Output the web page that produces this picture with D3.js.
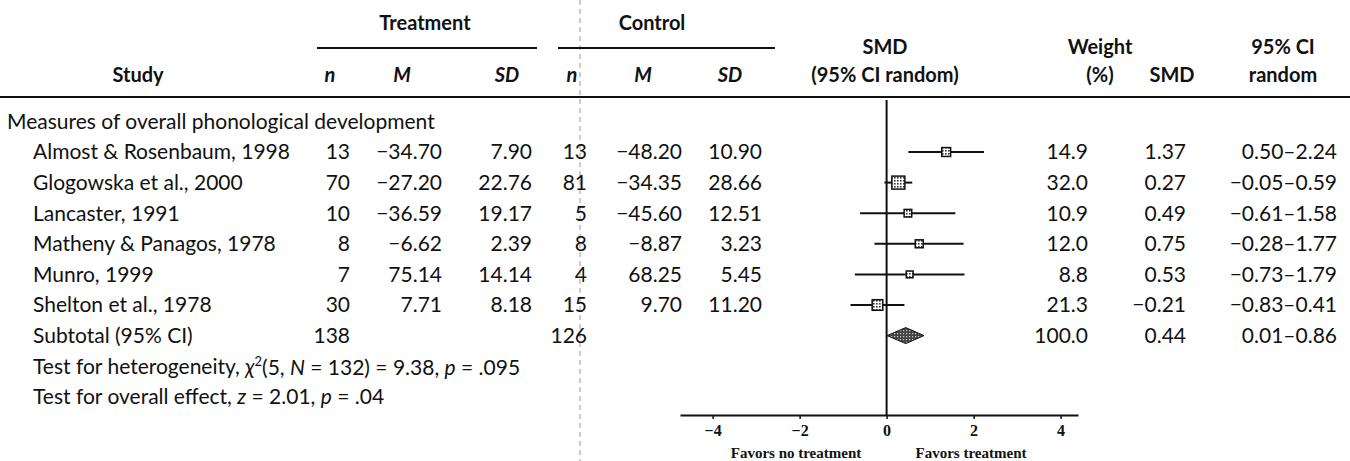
<!DOCTYPE html>
<html>
<head>
<meta charset="utf-8">
<script src="https://cdn.jsdelivr.net/npm/d3@7"></script>
<style>
  body { margin: 0; background: #fff; }
  text { fill: #111; }
</style>
</head>
<body>
<div id="chart"></div>
<script>
// Study rows
const studies = [
  "Almost & Rosenbaum, 1998",
  "Glogowska et al., 2000",
  "Lancaster, 1991",
  "Matheny & Panagos, 1978",
  "Munro, 1999",
  "Shelton et al., 1978"
];
const trtN = [13, 70, 10, 8, 7, 30];
const trtM = [-34.70, -27.20, -36.59, -6.62, 75.14, 7.71];
const trtSD = [7.90, 22.76, 19.17, 2.39, 14.14, 8.18];
const ctlN = [13, 81, 5, 8, 4, 15];
const ctlM = [-48.20, -34.35, -45.60, -8.87, 68.25, 9.70];
const ctlSD = [10.90, 28.66, 12.51, 3.23, 5.45, 11.20];
const weight = [14.9, 32.0, 10.9, 12.0, 8.8, 21.3];
const smd = [1.37, 0.27, 0.49, 0.75, 0.53, -0.21];
const ciLo = [0.50, -0.05, -0.61, -0.28, -0.73, -0.83];
const ciHi = [2.24, 0.59, 1.58, 1.77, 1.79, 0.41];

// Pooled result
const subtotal = { trtN: 138, ctlN: 126, weight: 100.0, smd: 0.44, lo: 0.01, hi: 0.86 };

const xTicks = [-4, -2, 0, 2, 4];

const W = 1350, H = 461;
const font = "Lato, 'Open Sans', sans-serif";
const serif = "'Liberation Serif', 'DejaVu Serif', serif";

const svg = d3.select("#chart").append("svg")
  .attr("width", W).attr("height", H)
  .style("font-family", font);

// patterns for the boxes and the diamond
const defs = svg.append("defs");
defs.append("pattern")
  .attr("id", "dots").attr("width", 3).attr("height", 3)
  .attr("patternUnits", "userSpaceOnUse")
  .call(p => {
    p.append("rect").attr("width", 3).attr("height", 3).attr("fill", "#fff");
    p.append("rect").attr("width", 1.6).attr("height", 1.6).attr("fill", "#333");
  });
defs.append("pattern")
  .attr("id", "darkdots").attr("width", 3).attr("height", 3)
  .attr("patternUnits", "userSpaceOnUse")
  .call(p => {
    p.append("rect").attr("width", 3).attr("height", 3).attr("fill", "#444");
    p.append("rect").attr("width", 1.2).attr("height", 1.2).attr("fill", "#ccc");
  });

// row positions
const y = d3.scaleLinear().domain([0, 1]).range([152, 182.6]);

// forest plot scale
const x = d3.scaleLinear().domain([-4.75, 4.4]).range([680, 1078]);
const axisY = 415;

const fmt2 = v => d3.format(".2f")(v).replace("-", "\u2212");
const fmtCI = (a, b) => fmt2(a) + "\u2013" + fmt2(b);

// dashed guide through the control n column
svg.append("line")
  .attr("x1", 580).attr("x2", 580).attr("y1", 0).attr("y2", H)
  .attr("stroke", "#999").attr("stroke-width", 1)
  .attr("stroke-dasharray", "5,4");

// header
const head = svg.append("g").attr("font-size", 20).attr("font-weight", 700);
head.append("text").attr("x", 425).attr("y", 30).attr("text-anchor", "middle").text("Treatment");
head.append("text").attr("x", 652).attr("y", 30).attr("text-anchor", "middle").text("Control");
head.append("text").attr("x", 138).attr("y", 82).attr("text-anchor", "middle").text("Study");

const subHeads = [
  { t: "n", x: 330 }, { t: "M", x: 402 }, { t: "SD", x: 507 },
  { t: "n", x: 572 }, { t: "M", x: 643 }, { t: "SD", x: 730 }
];
head.selectAll(".sub").data(subHeads).enter().append("text")
  .attr("x", d => d.x).attr("y", 82)
  .attr("text-anchor", "middle").attr("font-style", "italic")
  .text(d => d.t);

head.append("text").attr("x", 885).attr("y", 54).attr("text-anchor", "middle").text("SMD");
head.append("text").attr("x", 885).attr("y", 82).attr("text-anchor", "middle").text("(95% CI random)");
head.append("text").attr("x", 1100).attr("y", 54).attr("text-anchor", "middle").text("Weight");
head.append("text").attr("x", 1100).attr("y", 82).attr("text-anchor", "middle").text("(%)");
head.append("text").attr("x", 1172).attr("y", 82).attr("text-anchor", "middle").text("SMD");
head.append("text").attr("x", 1283).attr("y", 54).attr("text-anchor", "middle").text("95% CI");
head.append("text").attr("x", 1283).attr("y", 82).attr("text-anchor", "middle").text("random");

// header rules
svg.append("line").attr("x1", 317).attr("x2", 537).attr("y1", 48).attr("y2", 48)
  .attr("stroke", "#111").attr("stroke-width", 2);
svg.append("line").attr("x1", 558).attr("x2", 775).attr("y1", 48).attr("y2", 48)
  .attr("stroke", "#111").attr("stroke-width", 2);
svg.append("line").attr("x1", 0).attr("x2", W).attr("y1", 97).attr("y2", 97)
  .attr("stroke", "#111").attr("stroke-width", 2);

// body text
const body = svg.append("g").attr("font-size", 21);
body.append("text").attr("x", 7).attr("y", y(-1)).attr("dy", "0.35em")
  .text("Measures of overall phonological development");

const cols = [
  { v: trtN, x: 350, f: d => d },
  { v: trtM, x: 442, f: fmt2 },
  { v: trtSD, x: 532, f: fmt2 },
  { v: ctlN, x: 587, f: d => d },
  { v: ctlM, x: 682, f: fmt2 },
  { v: ctlSD, x: 762, f: fmt2 },
  { v: weight, x: 1088, f: d => d.toFixed(1) },
  { v: smd, x: 1186, f: fmt2 }
];

const rows = body.selectAll(".row").data(studies).enter().append("g")
  .attr("transform", (d, i) => `translate(0,${y(i)})`);
rows.append("text").attr("x", 33).attr("dy", "0.35em").text(d => d);
cols.forEach(c => {
  rows.append("text").attr("x", c.x).attr("dy", "0.35em").attr("text-anchor", "end")
    .text((d, i) => c.f(c.v[i]));
});
rows.append("text").attr("x", 1337).attr("dy", "0.35em").attr("text-anchor", "end")
  .text((d, i) => fmtCI(ciLo[i], ciHi[i]));

// subtotal row
const sub = body.append("g").attr("transform", `translate(0,${y(6)})`);
sub.append("text").attr("x", 33).attr("dy", "0.35em").text("Subtotal (95% CI)");
sub.append("text").attr("x", 350).attr("dy", "0.35em").attr("text-anchor", "end").text(subtotal.trtN);
sub.append("text").attr("x", 587).attr("dy", "0.35em").attr("text-anchor", "end").text(subtotal.ctlN);
sub.append("text").attr("x", 1088).attr("dy", "0.35em").attr("text-anchor", "end").text(subtotal.weight.toFixed(1));
sub.append("text").attr("x", 1186).attr("dy", "0.35em").attr("text-anchor", "end").text(fmt2(subtotal.smd));
sub.append("text").attr("x", 1337).attr("dy", "0.35em").attr("text-anchor", "end").text(fmtCI(subtotal.lo, subtotal.hi));

// test lines
const t1 = body.append("text").attr("x", 33).attr("y", y(7)).attr("dy", "0.35em");
t1.append("tspan").text("Test for heterogeneity, ");
t1.append("tspan").attr("font-style", "italic").text("\u03C7");
t1.append("tspan").attr("font-size", 13).attr("dy", "-0.6em").text("2");
t1.append("tspan").attr("dy", "0.45em").text("(5, ");
t1.append("tspan").attr("font-style", "italic").text("N");
t1.append("tspan").text(" = 132) = 9.38, ");
t1.append("tspan").attr("font-style", "italic").text("p");
t1.append("tspan").text(" = .095");

const t2 = body.append("text").attr("x", 33).attr("y", y(8)).attr("dy", "0.35em");
t2.append("tspan").text("Test for overall effect, ");
t2.append("tspan").attr("font-style", "italic").text("z");
t2.append("tspan").text(" = 2.01, ");
t2.append("tspan").attr("font-style", "italic").text("p");
t2.append("tspan").text(" = .04");

// forest plot
const plot = svg.append("g");
plot.append("line")
  .attr("x1", x(0)).attr("x2", x(0)).attr("y1", 100).attr("y2", axisY)
  .attr("stroke", "#111").attr("stroke-width", 2);

const boxSize = d3.scaleSqrt().domain([0, 32]).range([0, 13]);

const marks = plot.selectAll(".study").data(studies).enter().append("g");
marks.append("line")
  .attr("x1", (d, i) => x(ciLo[i])).attr("x2", (d, i) => x(ciHi[i]))
  .attr("y1", (d, i) => y(i)).attr("y2", (d, i) => y(i))
  .attr("stroke", "#111").attr("stroke-width", 2);
marks.append("rect")
  .attr("x", (d, i) => x(smd[i]) - boxSize(weight[i]) / 2)
  .attr("y", (d, i) => y(i) - boxSize(weight[i]) / 2)
  .attr("width", (d, i) => boxSize(weight[i]))
  .attr("height", (d, i) => boxSize(weight[i]))
  .attr("fill", "url(#dots)").attr("stroke", "#111").attr("stroke-width", 1.5);

// pooled diamond
const yd = y(6), hd = 8;
plot.append("path")
  .attr("d", `M${x(subtotal.lo)},${yd} L${x(subtotal.smd)},${yd - hd} L${x(subtotal.hi)},${yd} L${x(subtotal.smd)},${yd + hd} Z`)
  .attr("fill", "url(#darkdots)").attr("stroke", "#111").attr("stroke-width", 1);

// x axis
const axis = plot.append("g")
  .attr("transform", `translate(0,${axisY})`)
  .call(d3.axisBottom(x).tickValues(xTicks).tickSize(4).tickSizeOuter(0)
    .tickFormat(d => String(d).replace("-", "\u2212")));
axis.select(".domain").attr("stroke", "#111").attr("stroke-width", 2);
axis.selectAll(".tick line").attr("stroke", "#111").attr("stroke-width", 1.5);
axis.selectAll(".tick text")
  .attr("font-family", serif).attr("font-size", 16).attr("font-weight", 700)
  .attr("fill", "#111").attr("dy", "0.85em");

plot.append("text").attr("x", 796).attr("y", 458).attr("text-anchor", "middle")
  .attr("font-family", serif).attr("font-size", 15).attr("font-weight", 700).text("Favors no treatment");
plot.append("text").attr("x", 971).attr("y", 458).attr("text-anchor", "middle")
  .attr("font-family", serif).attr("font-size", 15).attr("font-weight", 700).text("Favors treatment");
</script>
</body>
</html>
